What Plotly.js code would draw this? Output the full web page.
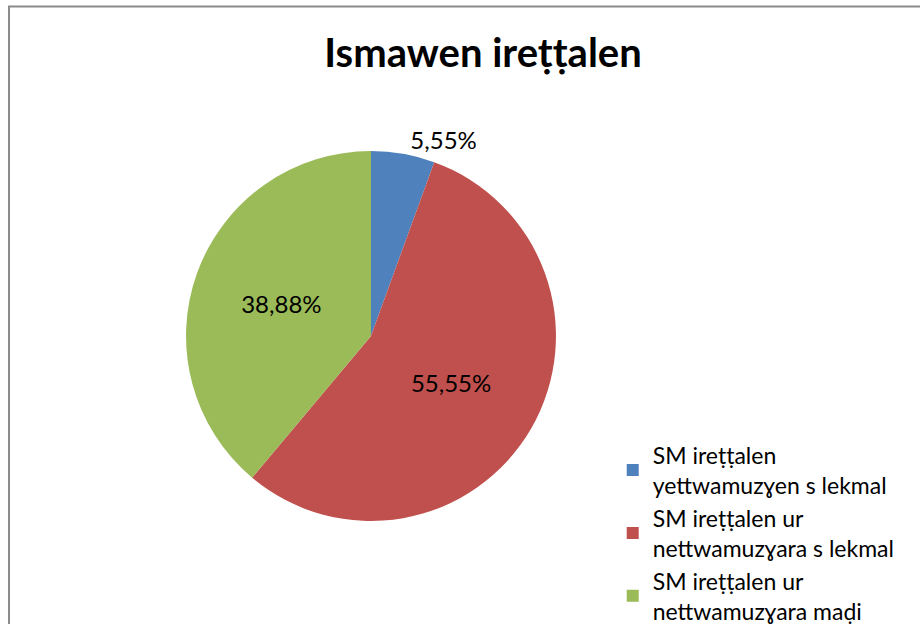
<!DOCTYPE html>
<html>
<head>
<meta charset="utf-8">
<script src="https://cdn.plot.ly/plotly-3.0.1.min.js"></script>
<style>html,body{margin:0;padding:0;background:#fff}#chart{width:920px;height:624px}</style>
</head>
<body>
<div id="chart"></div>
<script>
const categories = [
  "SM ireṭṭalen<br>yettwamuzɣen s lekmal",
  "SM ireṭṭalen ur<br>nettwamuzɣara s lekmal",
  "SM ireṭṭalen ur<br>nettwamuzɣara maḍi"
];
const values = [5.55, 55.55, 38.88];
const valueLabels = ["5,55%", "55,55%", "38,88%"];
const colors = ["#4F81BD", "#C0504D", "#9BBB59"];
const chartTitle = "Ismawen ireṭṭalen";

const font = "Lato, 'Open Sans', sans-serif";

const data = [{
  type: "pie",
  labels: categories,
  values: values,
  text: valueLabels,
  textinfo: "text",
  textposition: ["outside", "inside", "inside"],
  insidetextorientation: "horizontal",
  direction: "clockwise",
  rotation: 0,
  sort: false,
  marker: {colors: colors, line: {width: 0}},
  textfont: {family: font, size: 24, color: "#000"},
  outsidetextfont: {family: font, size: 24, color: "#000"},
  insidetextfont: {family: font, size: 24, color: "#000"},
  domain: {x: [0.2022, 0.6043], y: [0.1651, 0.758]},
  automargin: false,
  hoverinfo: "label+text"
}];

const layout = {
  width: 920, height: 624,
  margin: {l: 0, r: 0, t: 0, b: 0, autoexpand: false},
  paper_bgcolor: "#fff",
  title: {text: "<b>" + chartTitle + "</b>", font: {family: font, size: 40, color: "#000"},
          x: 0.525, xanchor: "center", y: 0.915, yanchor: "middle"},
  showlegend: true,
  legend: {x: 0.666, xanchor: "left", y: 0.305, yanchor: "top",
           font: {family: font, size: 23, color: "#000"}, bgcolor: "rgba(0,0,0,0)",
           itemwidth: 30, tracegroupgap: 0},
  shapes: [{type: "rect", xref: "paper", yref: "paper",
            x0: 0.0098, x1: 1.02, y0: -0.02, y1: 0.9897,
            line: {color: "#8a8a8a", width: 2}, fillcolor: "rgba(0,0,0,0)", layer: "above"}]
};

Plotly.newPlot("chart", data, layout, {displayModeBar: false, staticPlot: true});
</script>
</body>
</html>
